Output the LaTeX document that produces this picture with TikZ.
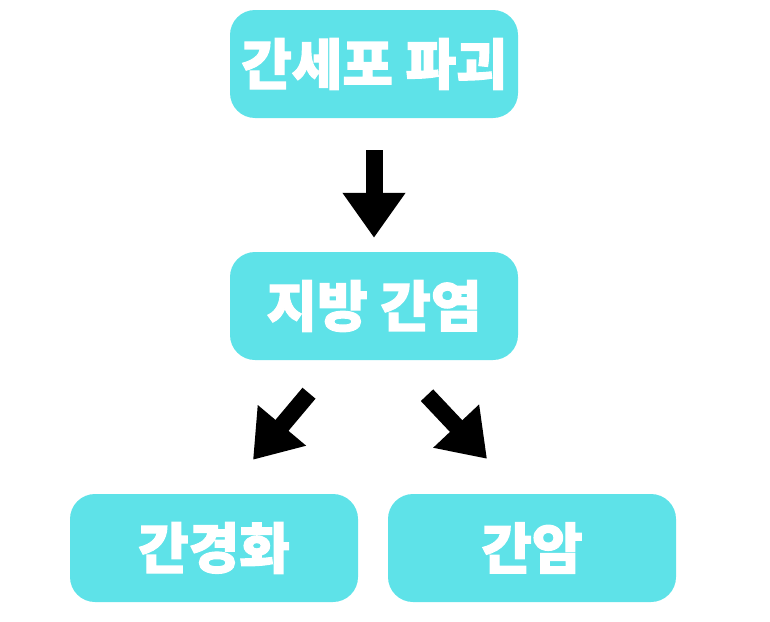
\documentclass[tikz,border=0pt]{standalone}
\usepackage{fontspec}
\newfontfamily\cjk{Noto Sans CJK KR}[UprightFont=* Black, FakeBold=2]
\usetikzlibrary{arrows.meta}
\definecolor{boxcyan}{HTML}{5EE2E8}
\begin{document}
\begin{tikzpicture}[x=1pt,y=-1pt,
  box/.style={fill=boxcyan, rounded corners=25pt, minimum width=288pt, minimum height=108pt, inner sep=0pt, text=white, font=\cjk\fontsize{55}{66}\selectfont},
  bigarrow/.style={line width=17pt, -{Triangle[width=60pt,length=45pt]}, black}]
\useasboundingbox (0,0) rectangle (770,621);
\node[box] (top) at (374,64) {간세포 파괴};
\node[box] (mid) at (374,306) {지방 간염};
\node[box] (bl) at (214,548) {간경화};
\node[box] (br) at (532,548) {간암};
\coordinate (da) at ([yshift=-32pt]top.south);
\coordinate (db) at ([yshift=14pt]mid.north);
\coordinate (la) at ([xshift=-65pt,yshift=-33pt]mid.south);
\coordinate (lb) at ([xshift=39pt,yshift=34pt]bl.north);
\coordinate (ra) at ([xshift=53pt,yshift=-35pt]mid.south);
\coordinate (rb) at ([xshift=-45pt,yshift=35pt]br.north);
\draw[bigarrow] (da) -- (db);
\draw[bigarrow] (la) -- (lb);
\draw[bigarrow] (ra) -- (rb);
\end{tikzpicture}
\end{document}
